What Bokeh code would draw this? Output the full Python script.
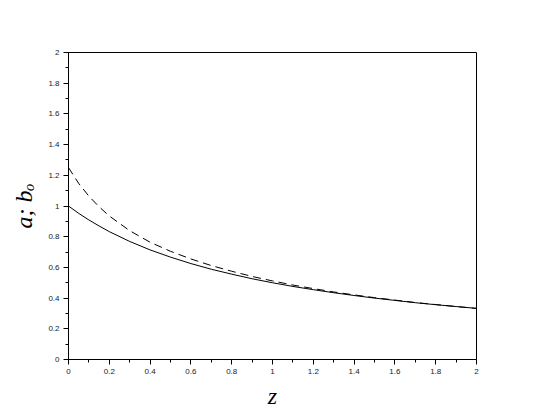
from bokeh.plotting import figure
from bokeh.models import FixedTicker, CustomJSTickFormatter, Range1d
from bokeh.embed import file_html
from bokeh.resources import INLINE

# data
z = [0.0, 0.05, 0.1, 0.15, 0.2, 0.3, 0.4, 0.5, 0.6, 0.7, 0.8, 0.9, 1.0,
     1.1, 1.2, 1.3, 1.4, 1.5, 1.6, 1.7, 1.8, 1.9, 2.0]
a_solid = [1.000, 0.952, 0.909, 0.870, 0.833, 0.769, 0.714, 0.667, 0.625,
           0.588, 0.556, 0.526, 0.500, 0.476, 0.455, 0.435, 0.417, 0.400,
           0.385, 0.370, 0.357, 0.345, 0.333]
b_dashed = [1.250, 1.147, 1.064, 0.995, 0.935, 0.839, 0.764, 0.705, 0.655,
            0.612, 0.575, 0.541, 0.512, 0.485, 0.462, 0.440, 0.421, 0.403,
            0.387, 0.371, 0.358, 0.345, 0.333]
major_ticks = [0.0, 0.2, 0.4, 0.6, 0.8, 1.0, 1.2, 1.4, 1.6, 1.8, 2.0]
minor_ticks = [0.1, 0.3, 0.5, 0.7, 0.9, 1.1, 1.3, 1.5, 1.7, 1.9]

p = figure(width=545, height=411, output_backend="svg", toolbar_location=None,
           x_range=Range1d(0, 2), y_range=Range1d(0, 2),
           min_border_left=68, min_border_right=69,
           min_border_top=52, min_border_bottom=51)
p.background_fill_color = "white"
p.border_fill_color = "white"
p.outline_line_color = "black"
p.outline_line_width = 1
p.grid.visible = False

p.line(z, a_solid, line_color="black", line_width=1)
p.line(z, b_dashed, line_color="black", line_width=1, line_dash="8 5")

fmt = CustomJSTickFormatter(code="return tick.toFixed(1).replace(/\\.0$/, '');")
for ax in (p.xaxis[0], p.yaxis[0]):
    ax.ticker = FixedTicker(ticks=major_ticks, minor_ticks=minor_ticks)
    ax.formatter = fmt
    ax.axis_line_color = "black"
    ax.major_tick_line_color = "black"
    ax.minor_tick_line_color = "black"
    ax.major_tick_in = 0
    ax.major_tick_out = 5
    ax.minor_tick_in = 0
    ax.minor_tick_out = 3
    ax.major_label_text_font = "Liberation Sans"
    ax.major_label_text_font_size = "8px"
    ax.major_label_text_color = "#222222"
    ax.major_label_standoff = 4
    ax.axis_label_text_font = "Liberation Serif"
    ax.axis_label_text_font_style = "italic"
    ax.axis_label_text_color = "black"

p.xaxis.axis_label = "z"
p.xaxis.axis_label_text_font_size = "24px"
p.xaxis.axis_label_standoff = 6
p.yaxis.axis_label = "a; bₒ"
p.yaxis.axis_label_text_font_size = "24px"
p.yaxis.axis_label_standoff = 8

open("out.html", "w").write(file_html(p, INLINE))
